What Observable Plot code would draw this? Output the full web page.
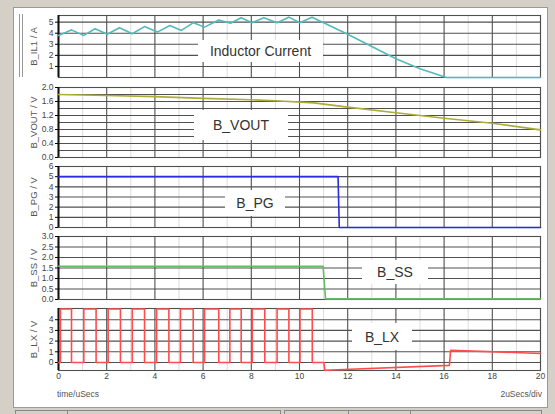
<!DOCTYPE html>
<html><head><meta charset="utf-8">
<script src="https://cdn.jsdelivr.net/npm/d3@7"></script>
<script src="https://cdn.jsdelivr.net/npm/@observablehq/plot@0.6"></script>
<style>
body{margin:0;background:#d4d0c8;}
#win{position:relative;width:555px;height:414px;background:#d4d0c8;overflow:hidden;font-family:"Liberation Sans",Arial,sans-serif;}
#paper{position:absolute;left:13px;top:7px;width:533px;height:399px;background:#fff;border:1px solid #999;}
.p{position:absolute;left:0;}
.lbl{position:absolute;background:#fff;font-size:14px;color:#333;display:flex;align-items:center;justify-content:center;white-space:nowrap;}
.small{position:absolute;font-size:8.5px;color:#555;white-space:nowrap;}
.dbl{position:absolute;left:19px;top:14px;height:63px;border-left:1px solid #999;border-right:1px solid #999;width:2px;}
.tab{position:absolute;top:410px;height:10px;border:1px solid #888;background:#d4d0c8;}
</style></head>
<body>
<div id="win">
  <div id="paper"></div>
  <div class="dbl"></div>
</div>
<script>
// time axis
const xTicks = [0, 2, 4, 6, 8, 10, 12, 14, 16, 18, 20];
const xMinor = [1, 3, 5, 7, 9, 11, 13, 15, 17, 19];

// B_IL1 (A)
const ilT = [0, 0.53, 1.05, 1.52, 2.02, 2.53, 3.06, 3.57, 4.1, 4.62, 5.1, 5.6, 6.06, 6.65, 7.14, 7.58, 8.03, 8.52, 9.07, 9.56, 10.01, 10.52, 11, 12, 13, 14, 15, 16.1, 20];
const ilV = [3.8, 4.3, 3.8, 4.4, 3.9, 4.5, 3.95, 4.6, 4.1, 4.7, 4.25, 4.95, 4.55, 5.2, 4.9, 5.4, 4.95, 5.4, 4.95, 5.45, 4.95, 5.45, 4.95, 3.9, 2.8, 1.7, 0.8, 0, 0];
const ilTicks = [1, 2, 3, 4, 5];
const ilGrid = [0, 1, 2, 3, 4, 5];

// B_VOUT (V)
const voutT = [0, 2, 4, 6, 8, 9, 10.6, 12, 14, 16, 18, 20];
const voutV = [1.8, 1.77, 1.74, 1.69, 1.65, 1.62, 1.56, 1.44, 1.28, 1.12, 0.98, 0.79];
const voutTicks = [0, 0.4, 0.8, 1.2, 1.6, 2.0];
const voutGrid = [0, 0.2, 0.4, 0.6, 0.8, 1.0, 1.2, 1.4, 1.6, 1.8, 2.0];

// B_PG (V)
const pgT = [0, 11.6, 11.65, 20];
const pgV = [5, 5, 0, 0];
const pgTicks = [0, 1, 2, 3, 4, 5, 6];

// B_SS (V)
const ssT = [0, 10.98, 11.08, 20];
const ssV = [1.58, 1.58, 0.03, 0.03];
const ssTicks = [0, 0.5, 1.0, 1.5, 2.0, 2.5, 3.0];

// B_LX (V)
const lxT = [0, 0.08, 0.08, 0.54, 0.54, 1.05, 1.05, 1.56, 1.56, 2.06, 2.06, 2.57, 2.57, 3.06, 3.06, 3.57, 3.57, 4.07, 4.07, 4.58, 4.58, 5.06, 5.06, 5.59, 5.59, 6.06, 6.06, 6.65, 6.65, 7.11, 7.11, 7.58, 7.58, 8.04, 8.04, 8.56, 8.56, 9.07, 9.07, 9.56, 9.56, 10.02, 10.02, 10.53, 10.53, 11.01, 11.05, 16.22, 16.27, 20];
const lxV = [0, 0, 5, 5, 0, 0, 5, 5, 0, 0, 5, 5, 0, 0, 5, 5, 0, 0, 5, 5, 0, 0, 5, 5, 0, 0, 5, 5, 0, 0, 5, 5, 0, 0, 5, 5, 0, 0, 5, 5, 0, 0, 5, 5, 0, 0, -0.72, -0.27, 1.15, 0.84];
const lxTicks = [0, 1, 2, 3, 4];

const f1 = d3.format(".1f");
const panels = [
  {top: 15, bottom: 77, domain: [0, 5.6], ticks: ilTicks, grid: ilGrid, fmt: d => d, label: "B_IL1 / A", t: ilT, v: ilV, color: "#55b9b9"},
  {top: 87, bottom: 157, domain: [0, 2.0], ticks: voutTicks, grid: voutGrid, fmt: f1, label: "B_VOUT / V", t: voutT, v: voutV, color: "#acac38"},
  {top: 166, bottom: 227, domain: [0, 6], ticks: pgTicks, grid: pgTicks, fmt: d => d, label: "B_PG / V", t: pgT, v: pgV, color: "#2b2be0"},
  {top: 236, bottom: 299, domain: [0, 3], ticks: ssTicks, grid: ssTicks, fmt: f1, label: "B_SS / V", t: ssT, v: ssV, color: "#66bb66"},
  {top: 308, bottom: 370, domain: [-0.75, 5.05], ticks: lxTicks, grid: lxTicks, fmt: d => d, label: "B_LX / V", t: lxT, v: lxV, color: "#ff4d4d", last: true}
];

const win = document.getElementById("win");
const mt = 8;
for (const p of panels) {
  const mb = p.last ? 22 : 8;
  const data = p.t.map((t, i) => ({t, v: p.v[i]}));
  const marks = [
    Plot.ruleX(xMinor, {stroke: "#dcdcdc", strokeWidth: 1}),
    Plot.ruleY(p.grid, {stroke: "#505050", strokeWidth: 1.1}),
    Plot.ruleX(xTicks, {stroke: "#505050", strokeWidth: 1.1}),
    Plot.frame({stroke: "#505050", strokeWidth: 1.1}),
    Plot.ruleX([0], {stroke: "#111", strokeWidth: 2}),
    Plot.axisY(p.ticks, {tickSize: 3, tickPadding: 2, fontSize: 8.5, fill: "#444", tickFormat: p.fmt, label: null}),
    Plot.text([p.label], {frameAnchor: "left", textAnchor: "middle", dx: -25, rotate: -90, fontSize: 9.5, fill: "#555"}),
    Plot.line(data, {x: "t", y: "v", stroke: p.color, strokeWidth: 1.6})
  ];
  if (p.last) marks.push(Plot.axisX(xTicks, {tickSize: 0, tickPadding: 2, fontSize: 8.5, fill: "#444", label: null}));
  const chart = Plot.plot({
    width: 555,
    height: (p.bottom - p.top) + mt + mb,
    marginLeft: 58, marginRight: 15, marginTop: mt, marginBottom: mb,
    style: {background: "transparent", overflow: "visible", fontFamily: "Liberation Sans, Arial, sans-serif"},
    x: {domain: [0, 20], axis: null},
    y: {domain: p.domain, axis: null},
    marks
  });
  chart.classList.add("p");
  chart.style.top = (p.top - mt) + "px";
  win.appendChild(chart);
}

function addDiv(cls, text, css) {
  const d = document.createElement("div");
  d.className = cls;
  d.textContent = text;
  Object.assign(d.style, css);
  win.appendChild(d);
}
addDiv("lbl", "Inductor Current", {left: "198px", top: "40px", width: "125px", height: "22px"});
addDiv("lbl", "B_VOUT", {left: "194px", top: "110px", width: "94px", height: "30px"});
addDiv("lbl", "B_PG", {left: "225px", top: "190px", width: "60px", height: "26px"});
addDiv("lbl", "B_SS", {left: "362px", top: "260px", width: "66px", height: "24px"});
addDiv("lbl", "B_LX", {left: "352px", top: "323px", width: "60px", height: "27px"});
addDiv("small", "time/uSecs", {left: "57px", top: "389px"});
addDiv("small", "2uSecs/div", {right: "13px", top: "389px"});
for (const [l, w] of [[15, 52], [67, 212], [284, 64], [348, 62], [410, 130]]) {
  addDiv("tab", "", {left: l + "px", width: w + "px"});
}
</script>
</body></html>
